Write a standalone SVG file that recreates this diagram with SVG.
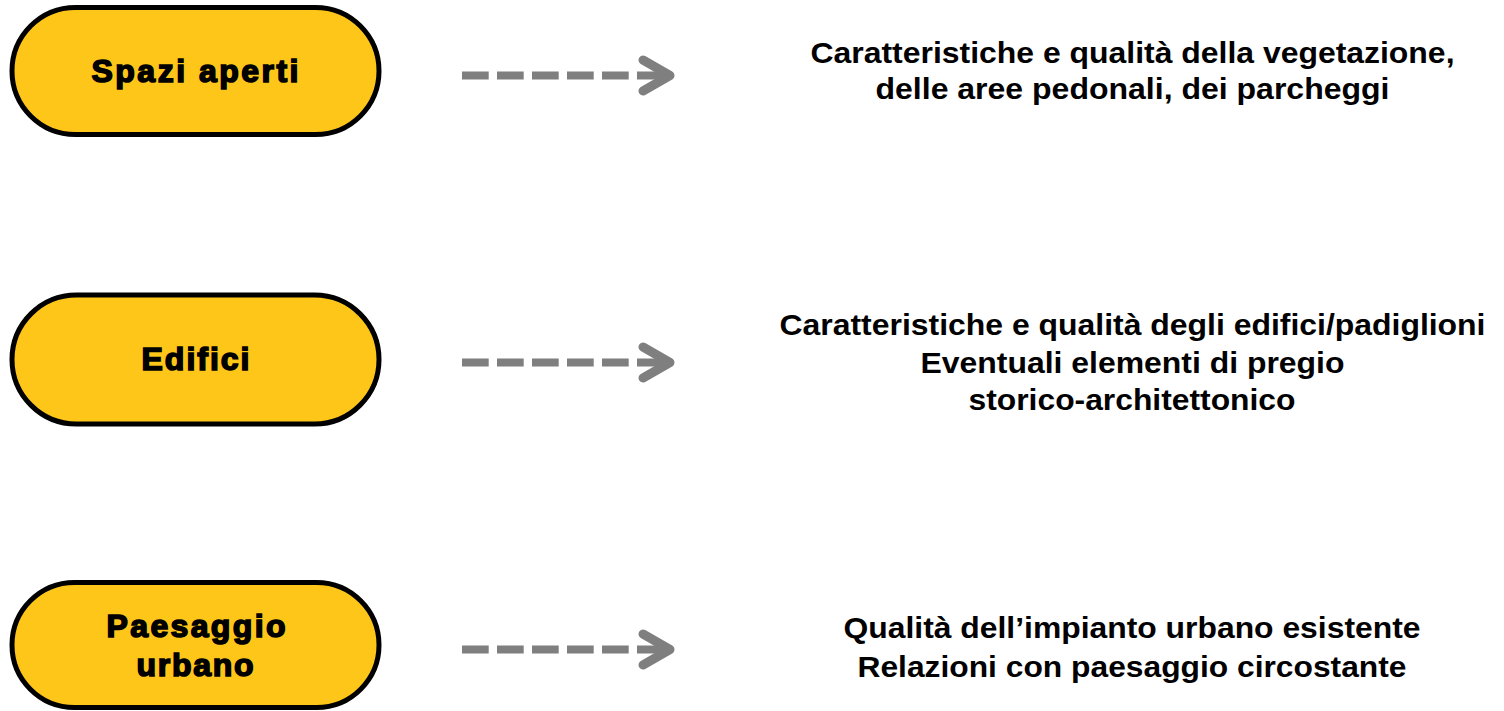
<svg xmlns="http://www.w3.org/2000/svg" width="1504" height="711" viewBox="0 0 1504 711">
<style>
.node{fill:#FFC61A;stroke:#000;stroke-width:5}
.nt{font-family:"Liberation Sans",Arial,sans-serif;font-weight:bold;font-size:32px;fill:#000;stroke:#000;stroke-width:1.6;text-anchor:middle}
.dash{fill:none;stroke:#7F7F7F;stroke-width:8;stroke-dasharray:26.7 8.3}
.head{fill:none;stroke:#7F7F7F;stroke-width:9;stroke-linecap:round;stroke-linejoin:round}
.ln{font-family:"Liberation Sans",Arial,sans-serif;font-weight:bold;font-size:30px;fill:#000;text-anchor:middle}
</style>
<rect width="1504" height="711" fill="#fff"/>
<g id="node-spazi">
<rect class="node" x="12" y="7.5" width="367" height="127" rx="63.5"/>
<text class="nt" x="195" y="82" textLength="207" lengthAdjust="spacing">Spazi aperti</text>
</g>
<g id="node-edifici">
<rect class="node" x="12" y="295" width="367" height="129" rx="64.5"/>
<text class="nt" x="195.5" y="370" textLength="108" lengthAdjust="spacing">Edifici</text>
</g>
<g id="node-paesaggio">
<rect class="node" x="12" y="582.5" width="367" height="125" rx="62.5"/>
<text class="nt" x="196" y="637" textLength="179" lengthAdjust="spacing">Paesaggio</text>
<text class="nt" x="195" y="676" textLength="117" lengthAdjust="spacing">urbano</text>
</g>
<g id="connectors">
<path class="dash" d="M462 75.5H668"/>
<polyline class="head" points="643,60 670,75.5 643,91"/>
<path class="dash" d="M462 362.5H668"/>
<polyline class="head" points="643,347 670,362.5 643,378"/>
<path class="dash" d="M462 649.5H668"/>
<polyline class="head" points="643,634 670,649.5 643,665"/>
</g>
<g id="desc-spazi">
<text class="ln" x="1132.5" y="63" textLength="644" lengthAdjust="spacingAndGlyphs">Caratteristiche e qualità della vegetazione,</text>
<text class="ln" x="1132.5" y="99" textLength="514" lengthAdjust="spacingAndGlyphs">delle aree pedonali, dei parcheggi</text>
</g>
<g id="desc-edifici">
<text class="ln" x="1132.5" y="335" textLength="706" lengthAdjust="spacingAndGlyphs">Caratteristiche e qualità degli edifici/padiglioni</text>
<text class="ln" x="1132.5" y="373" textLength="424" lengthAdjust="spacingAndGlyphs">Eventuali elementi di pregio</text>
<text class="ln" x="1132" y="410" textLength="327" lengthAdjust="spacingAndGlyphs">storico-architettonico</text>
</g>
<g id="desc-paesaggio">
<text class="ln" x="1132" y="638" textLength="577" lengthAdjust="spacingAndGlyphs">Qualità dell’impianto urbano esistente</text>
<text class="ln" x="1132" y="677" textLength="549" lengthAdjust="spacingAndGlyphs">Relazioni con paesaggio circostante</text>
</g>
</svg>
